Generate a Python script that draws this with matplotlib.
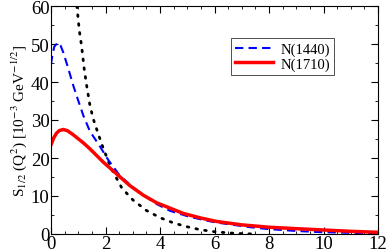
import numpy as np
import matplotlib.pyplot as plt
from matplotlib.ticker import MultipleLocator

# values
q2_1440 = [0.0, 0.05, 0.12, 0.25, 0.35, 0.45, 0.64, 0.82, 1.0, 1.19, 1.43, 1.8, 2.1,
           2.53, 2.96, 3.39, 3.9, 4.37, 5.0, 5.47, 6.0, 6.69, 7.3, 7.97, 9.0, 9.87,
           11.0, 12.0]
s_1440 = [44.7, 47.0, 49.3, 50.4, 49.6, 47.8, 43.4, 39.0, 35.1, 31.1, 27.0, 23.0, 19.5,
          15.3, 12.6, 10.2, 7.8, 6.1, 4.7, 3.9, 3.1, 2.4, 1.8, 1.3, 0.8, 0.5,
          0.3, 0.2]

q2_1710 = [0.0, 0.1, 0.2, 0.3, 0.45, 0.6, 0.8, 0.94, 1.2, 1.43, 1.92, 2.41, 2.9, 3.39,
           3.88, 4.3, 4.86, 5.5, 6.08, 7.0, 7.97, 9.0, 9.87, 11.0, 12.0]
s_1710 = [23.5, 25.3, 26.5, 27.2, 27.5, 27.2, 26.2, 25.4, 23.9, 22.4, 18.9, 15.8, 12.7,
          10.2, 8.2, 7.0, 5.4, 4.2, 3.3, 2.4, 1.8, 1.4, 1.1, 0.7, 0.45]

q2_dot = [0.95, 1.04, 1.12, 1.22, 1.31, 1.43, 1.55, 1.74, 1.92, 2.2, 2.6, 3.0, 3.5,
          4.0, 4.5, 5.0, 5.5, 6.0, 6.5, 7.0, 7.5]
s_dot = [60, 53.5, 49.6, 43.4, 39.0, 33.8, 30.3, 26.2, 22.5, 17.4, 12.1, 9.0, 6.2,
         4.3, 2.9, 1.9, 1.1, 0.6, 0.3, 0.1, 0.0]

plt.rcParams['font.family'] = ['Liberation Serif', 'DejaVu Serif']
plt.rcParams['mathtext.fontset'] = 'stix'

fig = plt.figure(figsize=(3.88, 2.53), dpi=100)
ax = fig.add_axes([51 / 388, 18 / 253, 327 / 388, 228 / 253])

ax.plot(q2_dot, s_dot, color='black', linestyle=(0, (0.6, 2.6)), linewidth=2.0,
        dash_capstyle='round')
ax.plot(q2_1440, s_1440, color='blue', linestyle=(0, (4, 2.5)), linewidth=1.5,
        label='N(1440)')
ax.plot(q2_1710, s_1710, color='red', linewidth=2.5, label='N(1710)')

ax.set_xlim(0, 12)
ax.set_ylim(0, 60)
ax.xaxis.set_major_locator(MultipleLocator(2))
ax.xaxis.set_minor_locator(MultipleLocator(0.5))
ax.yaxis.set_major_locator(MultipleLocator(10))
ax.yaxis.set_minor_locator(MultipleLocator(5))
ax.tick_params(which='both', direction='in', top=True, right=True, labelsize=13.5,
               pad=1)
ax.tick_params(which='major', length=5)
ax.tick_params(which='minor', length=2.5)
for s in ax.spines.values():
    s.set_linewidth(0.8)

ax.set_ylabel(r'S$_{1/2}$ (Q$^2$) [10$^{-3}$ GeV$^{-1/2}$]', fontsize=11, labelpad=1)

leg = ax.legend(loc='upper left', bbox_to_anchor=(0.55, 0.86), fontsize=10.5,
                frameon=True, fancybox=False, edgecolor='black', handlelength=2.6,
                borderpad=0.3, labelspacing=0.1, handletextpad=0.5, borderaxespad=0)
leg.get_frame().set_linewidth(0.6)

plt.savefig('out.png', dpi=100)
